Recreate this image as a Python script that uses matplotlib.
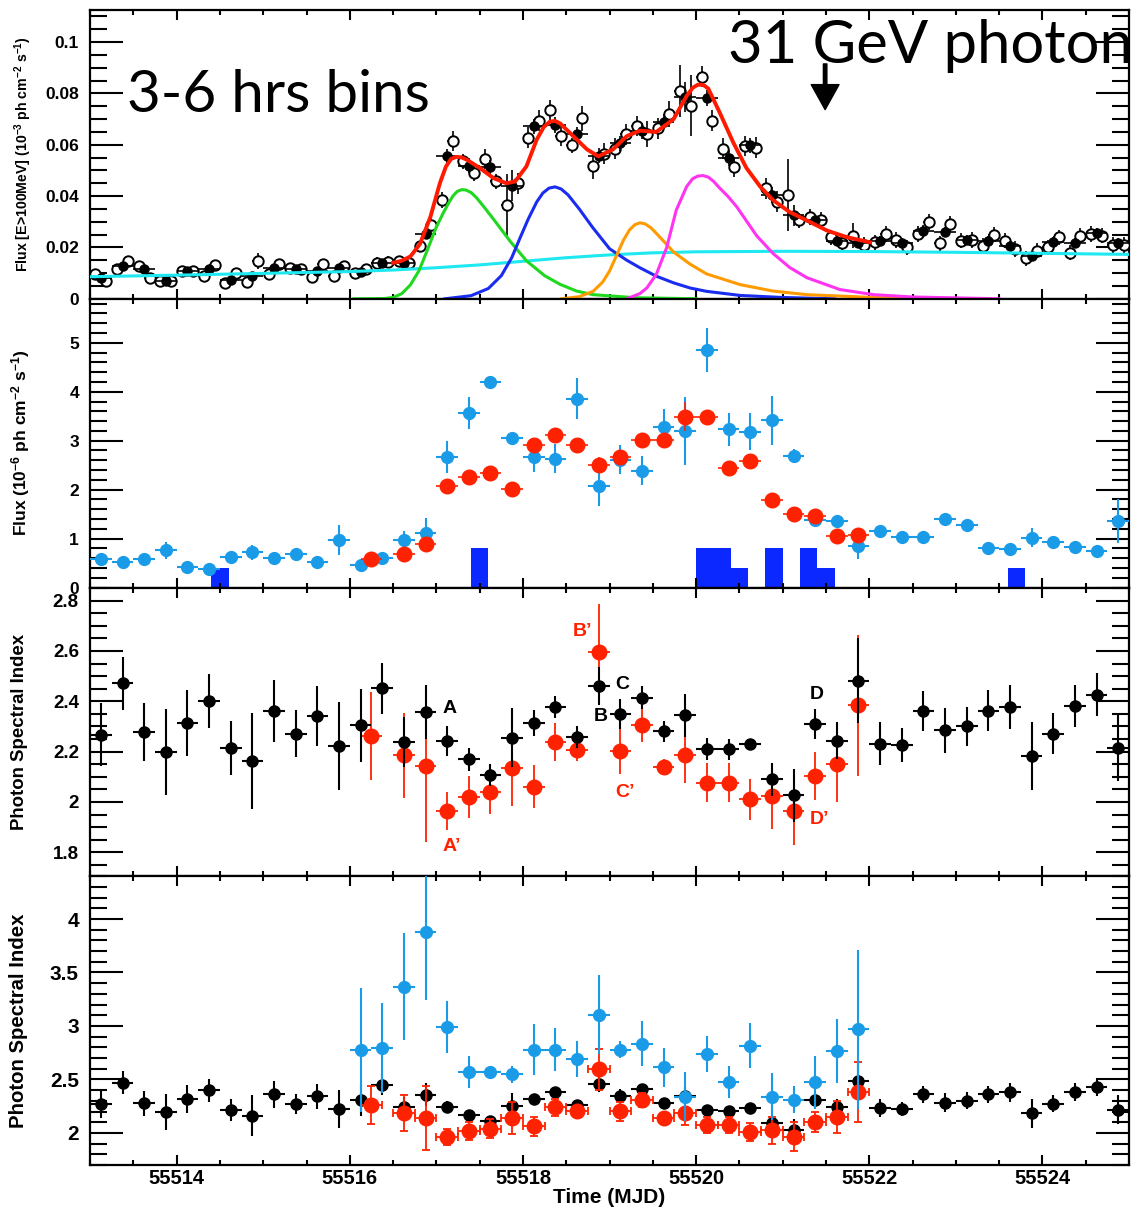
import matplotlib
matplotlib.use("Agg")
import matplotlib.pyplot as plt
from matplotlib.ticker import MultipleLocator, FuncFormatter

plt.rcParams['font.family'] = ['Liberation Sans', 'DejaVu Sans']
plt.rcParams['font.weight'] = 'bold'
plt.rcParams['axes.labelweight'] = 'bold'
plt.rcParams['mathtext.fontset'] = 'custom'
plt.rcParams['mathtext.rm'] = 'Liberation Sans:bold'
plt.rcParams['mathtext.default'] = 'rm'

# ---------------- panel 1 : LAT flux, 3 h bins (open) and 6 h bins (filled) -------------
t_3h = [55513.0625, 55513.1875, 55513.3125, 55513.4375, 55513.5625, 55513.6875, 55513.8125, 55513.9375,
        55514.0625, 55514.1875, 55514.3125, 55514.4375, 55514.5625, 55514.6875, 55514.8125, 55514.9375,
        55515.0625, 55515.1875, 55515.3125, 55515.4375, 55515.5625, 55515.6875, 55515.8125, 55515.9375,
        55516.0625, 55516.1875, 55516.3125, 55516.4375, 55516.5625, 55516.6875, 55516.8125, 55516.9375,
        55517.0625, 55517.1875, 55517.3125, 55517.4375, 55517.5625, 55517.6875, 55517.8125, 55517.9375,
        55518.0625, 55518.1875, 55518.3125, 55518.4375, 55518.5625, 55518.6875, 55518.8125, 55518.9375,
        55519.0625, 55519.1875, 55519.3125, 55519.4375, 55519.5625, 55519.6875, 55519.8125, 55519.9375,
        55520.0625, 55520.1875, 55520.3125, 55520.4375, 55520.5625, 55520.6875, 55520.8125, 55520.9375,
        55521.0625, 55521.1875, 55521.3125, 55521.4375, 55521.5625, 55521.6875, 55521.8125, 55521.9375,
        55522.0625, 55522.1875, 55522.3125, 55522.4375, 55522.5625, 55522.6875, 55522.8125, 55522.9375,
        55523.0625, 55523.1875, 55523.3125, 55523.4375, 55523.5625, 55523.6875, 55523.8125, 55523.9375,
        55524.0625, 55524.1875, 55524.3125, 55524.4375, 55524.5625, 55524.6875, 55524.8125, 55524.9375]
flux_3h = [0.0095, 0.0068, 0.0115, 0.0147, 0.0128, 0.0081, 0.0068, 0.0068,
           0.0108, 0.0108, 0.0088, 0.0130, 0.0062, 0.0101, 0.0064, 0.0147,
           0.0095, 0.0134, 0.0121, 0.0115, 0.0084, 0.0134, 0.0088, 0.0128,
           0.0101, 0.0115, 0.0141, 0.0145, 0.0148, 0.0141, 0.0204, 0.0288,
           0.0385, 0.0615, 0.0536, 0.0490, 0.0545, 0.0457, 0.0365, 0.0450,
           0.0628, 0.0694, 0.0736, 0.0634, 0.0598, 0.0703, 0.0516, 0.0566,
           0.0585, 0.0641, 0.0674, 0.0641, 0.0664, 0.0720, 0.0810, 0.0753,
           0.0865, 0.0694, 0.0585, 0.0514, 0.0595, 0.0589, 0.0430, 0.0378,
           0.0404, 0.0305, 0.0318, 0.0308, 0.0239, 0.0216, 0.0246, 0.0210,
           0.0220, 0.0253, 0.0229, 0.0200, 0.0253, 0.0299, 0.0216, 0.0292,
           0.0226, 0.0229, 0.0207, 0.0250, 0.0226, 0.0194, 0.0158, 0.0187,
           0.0200, 0.0239, 0.0180, 0.0246, 0.0253, 0.0246, 0.0210, 0.0210]
err_3h = [0.002, 0.002, 0.002, 0.002, 0.002, 0.002, 0.002, 0.002,
          0.002, 0.002, 0.002, 0.002, 0.002, 0.002, 0.002, 0.003,
          0.002, 0.002, 0.002, 0.002, 0.002, 0.002, 0.002, 0.002,
          0.002, 0.002, 0.002, 0.002, 0.002, 0.002, 0.002, 0.003,
          0.003, 0.004, 0.003, 0.003, 0.004, 0.003, 0.012, 0.004,
          0.004, 0.004, 0.004, 0.004, 0.003, 0.005, 0.005, 0.004,
          0.004, 0.004, 0.004, 0.005, 0.004, 0.005, 0.010, 0.012,
          0.004, 0.004, 0.004, 0.004, 0.004, 0.004, 0.004, 0.004,
          0.014, 0.003, 0.003, 0.003, 0.003, 0.003, 0.005, 0.003,
          0.003, 0.003, 0.003, 0.003, 0.003, 0.003, 0.003, 0.003,
          0.003, 0.003, 0.003, 0.003, 0.003, 0.003, 0.003, 0.003,
          0.003, 0.003, 0.003, 0.003, 0.003, 0.003, 0.003, 0.003]

t_6h = [55513.125, 55513.375, 55513.625, 55513.875, 55514.125, 55514.375, 55514.625, 55514.875,
        55515.125, 55515.375, 55515.625, 55515.875, 55516.125, 55516.375, 55516.625, 55516.875,
        55517.125, 55517.375, 55517.625, 55517.875, 55518.125, 55518.375, 55518.625, 55518.875,
        55519.125, 55519.375, 55519.625, 55519.875, 55520.125, 55520.375, 55520.625, 55520.875,
        55521.125, 55521.375, 55521.625, 55521.875, 55522.125, 55522.375, 55522.625, 55522.875,
        55523.125, 55523.375, 55523.625, 55523.875, 55524.125, 55524.375, 55524.625, 55524.875]
flux_6h = [0.0079, 0.0128, 0.0115, 0.0071, 0.0108, 0.0115, 0.0072, 0.0088,
           0.0121, 0.0115, 0.0108, 0.0121, 0.0105, 0.0139, 0.0141, 0.0253,
           0.0555, 0.0519, 0.0512, 0.0440, 0.0672, 0.0677, 0.0641, 0.0558,
           0.0606, 0.0654, 0.0690, 0.0786, 0.0783, 0.0549, 0.0598, 0.0404,
           0.0325, 0.0305, 0.0226, 0.0216, 0.0224, 0.0216, 0.0266, 0.0259,
           0.0229, 0.0226, 0.0207, 0.0167, 0.0220, 0.0216, 0.0255, 0.0216]
err_6h = [0.0015, 0.0015, 0.0015, 0.0015, 0.0015, 0.0015, 0.0015, 0.0015,
          0.0015, 0.0015, 0.0015, 0.0015, 0.0015, 0.0015, 0.0015, 0.002,
          0.003, 0.003, 0.003, 0.006, 0.003, 0.003, 0.003, 0.003,
          0.003, 0.003, 0.003, 0.006, 0.003, 0.003, 0.003, 0.003,
          0.004, 0.002, 0.002, 0.002, 0.002, 0.002, 0.002, 0.002,
          0.002, 0.002, 0.002, 0.002, 0.002, 0.002, 0.002, 0.002]

# fitted profile components
base_t = [55513.0, 55514.0, 55515.0, 55516.0, 55516.5, 55517.0, 55517.5, 55518.0, 55518.5,
          55519.0, 55519.5, 55520.0, 55521.0, 55522.0, 55523.0, 55524.0, 55525.0]
base_f = [0.0086, 0.0092, 0.0099, 0.0106, 0.0112, 0.0121, 0.0132, 0.0146, 0.0160,
          0.0171, 0.0179, 0.0183, 0.0185, 0.0184, 0.0181, 0.0177, 0.0173]
green_t = [55516.05, 55516.40, 55516.50, 55516.60, 55516.70, 55516.80, 55516.89, 55517.00, 55517.08,
           55517.14, 55517.19, 55517.24, 55517.29, 55517.34, 55517.40, 55517.46, 55517.54, 55517.66,
           55517.85, 55518.04, 55518.25, 55518.43, 55518.62, 55518.81, 55519.30, 55520.00]
green_f = [0.0000, 0.0001, 0.0005, 0.0020, 0.0054, 0.0110, 0.0185, 0.0280, 0.0335,
           0.0372, 0.0400, 0.0418, 0.0425, 0.0424, 0.0414, 0.0395, 0.0362, 0.0310,
           0.0225, 0.0148, 0.0090, 0.0056, 0.0030, 0.0016, 0.0004, 0.0000]
blue_t = [55517.10, 55517.40, 55517.60, 55517.75, 55517.87, 55517.97, 55518.06, 55518.16, 55518.23,
          55518.30, 55518.37, 55518.44, 55518.52, 55518.65, 55518.80, 55519.00, 55519.20, 55519.35,
          55519.54, 55519.74, 55519.93, 55520.12, 55520.51, 55521.00, 55521.60]
blue_f = [0.0000, 0.0012, 0.0040, 0.0090, 0.0160, 0.0240, 0.0310, 0.0378, 0.0412,
          0.0431, 0.0436, 0.0428, 0.0405, 0.0350, 0.0280, 0.0195, 0.0150, 0.0121,
          0.0088, 0.0062, 0.0042, 0.0029, 0.0013, 0.0005, 0.0000]
orange_t = [55518.45, 55518.65, 55518.81, 55518.92, 55519.00, 55519.08, 55519.16, 55519.23, 55519.29,
            55519.35, 55519.41, 55519.48, 55519.56, 55519.74, 55519.93, 55520.12, 55520.51, 55520.89,
            55521.28, 55522.05, 55523.00]
orange_f = [0.0000, 0.0008, 0.0029, 0.0065, 0.0108, 0.0168, 0.0228, 0.0268, 0.0288,
            0.0296, 0.0292, 0.0276, 0.0248, 0.0182, 0.0135, 0.0097, 0.0055, 0.0030,
            0.0016, 0.0005, 0.0000]
magenta_t = [55519.20, 55519.35, 55519.43, 55519.54, 55519.66, 55519.77, 55519.89, 55519.96, 55520.02,
             55520.08, 55520.14, 55520.20, 55520.27, 55520.37, 55520.47, 55520.70, 55520.89, 55521.08,
             55521.28, 55521.66, 55522.05, 55522.50, 55523.50]
magenta_f = [0.0000, 0.0020, 0.0042, 0.0095, 0.0200, 0.0345, 0.0437, 0.0468, 0.0478,
             0.0480, 0.0474, 0.0458, 0.0432, 0.0398, 0.0358, 0.0245, 0.0176, 0.0122,
             0.0082, 0.0036, 0.0016, 0.0007, 0.0000]
total_t = [55516.50, 55516.60, 55516.70, 55516.81, 55516.93, 55517.04, 55517.11, 55517.17, 55517.23,
           55517.29, 55517.35, 55517.50, 55517.66, 55517.81, 55517.91, 55518.04, 55518.16, 55518.24,
           55518.31, 55518.37, 55518.43, 55518.58, 55518.74, 55518.87, 55519.04, 55519.20, 55519.35,
           55519.54, 55519.74, 55519.89, 55519.96, 55520.02, 55520.08, 55520.14, 55520.27, 55520.43,
           55520.58, 55520.74, 55520.89, 55521.08, 55521.28, 55521.51, 55521.74, 55522.01]
total_f = [0.0140, 0.0148, 0.0165, 0.0213, 0.0318, 0.0450, 0.0515, 0.0545, 0.0553,
           0.0551, 0.0542, 0.0510, 0.0470, 0.0450, 0.0457, 0.0516, 0.0621, 0.0669,
           0.0690, 0.0693, 0.0683, 0.0634, 0.0582, 0.0555, 0.0582, 0.0634, 0.0655,
           0.0650, 0.0700, 0.0790, 0.0822, 0.0834, 0.0834, 0.0819, 0.0727, 0.0608,
           0.0510, 0.0437, 0.0384, 0.0338, 0.0305, 0.0266, 0.0240, 0.0220]

photon_mjd = 55521.49

# ---------------- panel 2 : flux (1e-6) ----------------
t_blue = t_6h
flux_blue = [0.59, 0.52, 0.58, 0.76, 0.42, 0.37, 0.62, 0.72,
             0.61, 0.68, 0.53, 0.97, 0.47, 0.61, 0.98, 1.12,
             2.66, 3.56, 4.19, 3.05, 2.66, 2.63, 3.86, 2.07,
             2.61, 2.39, 3.27, 3.20, 4.86, 3.23, 3.18, 3.42,
             2.69, 1.38, 1.36, 0.85, 1.15, 1.04, 1.04, 1.39,
             1.27, 0.80, 0.78, 1.02, 0.93, 0.83, 0.75, 1.36]
ferr_blue = [0.10, 0.08, 0.10, 0.18, 0.10, 0.08, 0.08, 0.15,
             0.10, 0.10, 0.10, 0.30, 0.10, 0.10, 0.18, 0.30,
             0.33, 0.33, 0.12, 0.12, 0.30, 0.30, 0.42, 0.40,
             0.30, 0.30, 0.37, 0.70, 0.45, 0.33, 0.38, 0.50,
             0.14, 0.15, 0.10, 0.27, 0.10, 0.12, 0.12, 0.12,
             0.10, 0.10, 0.10, 0.20, 0.10, 0.10, 0.10, 0.45]
t_red = [55516.25, 55516.625, 55516.875, 55517.125, 55517.375, 55517.625, 55517.875, 55518.125,
         55518.375, 55518.625, 55518.875, 55519.125, 55519.375, 55519.625, 55519.875, 55520.125,
         55520.375, 55520.625, 55520.875, 55521.125, 55521.375, 55521.625, 55521.875]
flux_red = [0.58, 0.68, 0.88, 2.07, 2.25, 2.34, 2.02, 2.91,
            3.12, 2.91, 2.51, 2.66, 3.01, 3.01, 3.49, 3.48,
            2.45, 2.59, 1.78, 1.51, 1.46, 1.05, 1.08]
ferr_red = [0.05, 0.07, 0.12, 0.08, 0.08, 0.08, 0.12, 0.12,
            0.10, 0.08, 0.15, 0.10, 0.08, 0.08, 0.30, 0.10,
            0.08, 0.08, 0.08, 0.08, 0.10, 0.08, 0.10]
hist_left = [55514.4, 55517.4, 55520.0, 55520.2, 55520.4, 55520.8, 55521.2, 55521.4, 55523.6]
hist_height = [0.4, 0.8, 0.8, 0.8, 0.4, 0.8, 0.8, 0.4, 0.4]

# ---------------- panels 3/4 : photon index ----------------
idx_black = [2.268, 2.471, 2.277, 2.198, 2.314, 2.400, 2.215, 2.162,
             2.361, 2.272, 2.341, 2.224, 2.304, 2.451, 2.239, 2.357,
             2.242, 2.169, 2.107, 2.255, 2.314, 2.378, 2.258, 2.460,
             2.348, 2.414, 2.281, 2.344, 2.211, 2.209, 2.232, 2.090,
             2.026, 2.310, 2.244, 2.482, 2.232, 2.226, 2.361, 2.284,
             2.301, 2.363, 2.378, 2.182, 2.272, 2.381, 2.427, 2.216]
ierr_black = [0.125, 0.105, 0.115, 0.170, 0.130, 0.108, 0.106, 0.190,
              0.124, 0.093, 0.120, 0.175, 0.144, 0.100, 0.100, 0.107,
              0.060, 0.044, 0.043, 0.117, 0.050, 0.044, 0.043, 0.076,
              0.060, 0.046, 0.042, 0.086, 0.044, 0.042, 0.015, 0.066,
              0.106, 0.060, 0.074, 0.170, 0.084, 0.066, 0.080, 0.090,
              0.077, 0.080, 0.087, 0.136, 0.080, 0.082, 0.085, 0.134]
idx_red = [2.262, 2.185, 2.142, 1.964, 2.021, 2.041, 2.136, 2.060,
           2.238, 2.206, 2.595, 2.202, 2.304, 2.140, 2.186, 2.076,
           2.076, 2.010, 2.023, 1.964, 2.103, 2.149, 2.385]
ierr_red = [0.175, 0.170, 0.300, 0.076, 0.083, 0.090, 0.150, 0.085,
            0.076, 0.042, 0.190, 0.090, 0.066, 0.030, 0.110, 0.077,
            0.077, 0.082, 0.130, 0.136, 0.095, 0.150, 0.280]
t_lblue = [55516.125, 55516.375, 55516.625, 55516.875, 55517.125, 55517.375, 55517.625, 55517.875,
           55518.125, 55518.375, 55518.625, 55518.875, 55519.125, 55519.375, 55519.625, 55519.875,
           55520.125, 55520.375, 55520.625, 55520.875, 55521.125, 55521.375, 55521.625, 55521.875]
idx_lblue = [2.779, 2.795, 3.369, 3.883, 2.990, 2.568, 2.574, 2.549,
             2.779, 2.779, 2.694, 3.104, 2.779, 2.836, 2.612, 2.337,
             2.738, 2.479, 2.817, 2.337, 2.312, 2.473, 2.763, 2.968]
ierr_lblue = [0.58, 0.42, 0.50, 0.64, 0.245, 0.15, 0.05, 0.08,
              0.24, 0.20, 0.17, 0.37, 0.08, 0.21, 0.18, 0.23,
              0.17, 0.15, 0.21, 0.22, 0.13, 0.25, 0.30, 0.74]

labels_black = [("A", 55517.07, 2.37), ("B", 55518.82, 2.34), ("C", 55519.07, 2.467), ("D", 55521.31, 2.427)]
labels_red = [("A\u2019", 55517.07, 1.825), ("B\u2019", 55518.58, 2.678), ("C\u2019", 55519.07, 2.037), ("D\u2019", 55521.31, 1.931)]

RED = '#ff2200'
LBLUE = '#1a9be8'

fig, axes = plt.subplots(4, 1, sharex=True, figsize=(11.37, 12.09), dpi=100)
fig.subplots_adjust(left=0.0792, right=0.993, top=0.9917, bottom=0.0364, hspace=0)


def fmt(v, pos):
    return '%g' % round(v, 4)


def root_style(ax, ymaj, ymin, ylo, yhi, lsize):
    ax.set_xlim(55513, 55525)
    ax.set_ylim(ylo, yhi)
    ax.xaxis.set_major_locator(MultipleLocator(2))
    ax.xaxis.set_minor_locator(MultipleLocator(0.5))
    ax.yaxis.set_major_locator(MultipleLocator(ymaj))
    ax.yaxis.set_minor_locator(MultipleLocator(ymin))
    ax.yaxis.set_major_formatter(FuncFormatter(fmt))
    ax.tick_params(which='both', direction='in', top=True, right=True, width=1.5)
    ax.tick_params(axis='y', which='major', length=24, labelsize=lsize, pad=8)
    ax.tick_params(axis='y', which='minor', length=12)
    ax.tick_params(axis='x', which='major', length=7, labelsize=14.5, pad=3)
    ax.tick_params(axis='x', which='minor', length=3.5)
    for s in ax.spines.values():
        s.set_linewidth(1.6)


# panel 1
ax = axes[0]
root_style(ax, 0.02, 0.005, 0, 0.1125, 12.5)
ax.errorbar(t_3h, flux_3h, yerr=err_3h, xerr=0.0625, fmt='o', ms=7.5, mfc='white', mec='black',
            mew=1.4, ecolor='black', elinewidth=1.2, zorder=3)
ax.errorbar(t_6h, flux_6h, yerr=err_6h, xerr=0.125, fmt='o', ms=6.5, color='black',
            ecolor='black', elinewidth=1.2, zorder=4)
ax.plot(base_t, base_f, color='#1ee8f0', lw=2.2, zorder=5)
ax.plot(green_t, green_f, color='#1fd81f', lw=2.2, zorder=5)
ax.plot(blue_t, blue_f, color='#1a2cf0', lw=2.2, zorder=5)
ax.plot(orange_t, orange_f, color='#ff9a00', lw=2.2, zorder=5)
ax.plot(magenta_t, magenta_f, color='#ff33f0', lw=2.2, zorder=5)
ax.plot(total_t, total_f, color='#ff1a00', lw=2.8, zorder=6, solid_joinstyle='round')
ax.set_ylabel(r'Flux [E>100MeV] (10$^{-3}$ ph cm$^{-2}$ s$^{-1}$)', fontsize=10.2)
ax.yaxis.set_label_coords(-0.054, 0.5)
ax.text(0.0356, 0.648, '3-6 hrs bins', transform=ax.transAxes, family='Lato', fontweight='normal',
        fontsize=42, va='baseline', ha='left', zorder=10)
ax.text(0.614, 0.815, '31 GeV photon', transform=ax.transAxes, family='Lato', fontweight='normal',
        fontsize=43, va='baseline', ha='left', zorder=10, clip_on=False)
ax.annotate('', xy=(photon_mjd, 0.0737), xytext=(photon_mjd, 0.0915),
            arrowprops=dict(facecolor='black', edgecolor='black', width=2.5, headwidth=20, headlength=18),
            zorder=10)

# panel 2
ax = axes[1]
root_style(ax, 1, 0.2, 0, 5.9, 12.5)
ax.bar(hist_left, hist_height, width=0.2, align='edge', color='#0a28ff', zorder=1)
ax.errorbar(t_blue, flux_blue, yerr=ferr_blue, xerr=0.125, fmt='o', ms=8.5, color=LBLUE,
            ecolor=LBLUE, elinewidth=1.5, zorder=3)
ax.errorbar(t_red, flux_red, yerr=ferr_red, xerr=0.125, fmt='o', ms=10.5, color=RED,
            ecolor=RED, elinewidth=1.2, zorder=4)
ax.set_ylabel(r'Flux (10$^{-6}$ ph cm$^{-2}$ s$^{-1}$)', fontsize=12.5)
ax.yaxis.set_label_coords(-0.056, 0.5)

# panel 3
ax = axes[2]
root_style(ax, 0.2, 0.05, 1.705, 2.852, 13.5)
ax.errorbar(t_red, idx_red, yerr=ierr_red, xerr=0.125, fmt='o', ms=10.5, color=RED,
            ecolor=RED, elinewidth=1.3, zorder=3)
ax.errorbar(t_6h, idx_black, yerr=ierr_black, xerr=0.125, fmt='o', ms=8, color='black',
            ecolor='black', elinewidth=1.5, zorder=4)
for s, x, y in labels_black:
    ax.text(x, y, s, color='black', fontsize=14, va='center', ha='left', zorder=6)
for s, x, y in labels_red:
    ax.text(x, y, s, color=RED, fontsize=14, va='center', ha='left', zorder=6)
ax.set_ylabel('Photon Spectral Index', fontsize=13.4)
ax.yaxis.set_label_coords(-0.06, 0.5)

# panel 4
ax = axes[3]
root_style(ax, 0.5, 0.1, 1.7, 4.4, 15)
ax.errorbar(t_6h, idx_black, yerr=ierr_black, xerr=0.125, fmt='o', ms=8, color='black',
            ecolor='black', elinewidth=1.5, zorder=3)
ax.errorbar(t_red, idx_red, yerr=ierr_red, xerr=0.125, fmt='o', ms=10.5, color=RED,
            ecolor=RED, elinewidth=1.3, capsize=3, capthick=1.3, zorder=4)
ax.errorbar(t_lblue, idx_lblue, yerr=ierr_lblue, xerr=0.125, fmt='o', ms=8.5, color=LBLUE,
            ecolor=LBLUE, elinewidth=1.5, zorder=5)
ax.set_ylabel('Photon Spectral Index', fontsize=14.7)
ax.yaxis.set_label_coords(-0.06, 0.5)
ax.xaxis.set_major_formatter(FuncFormatter(lambda v, p: '%d' % v))
ax.set_xlabel('Time (MJD)', fontsize=15, labelpad=0)

fig.savefig('out.png', dpi=100)
